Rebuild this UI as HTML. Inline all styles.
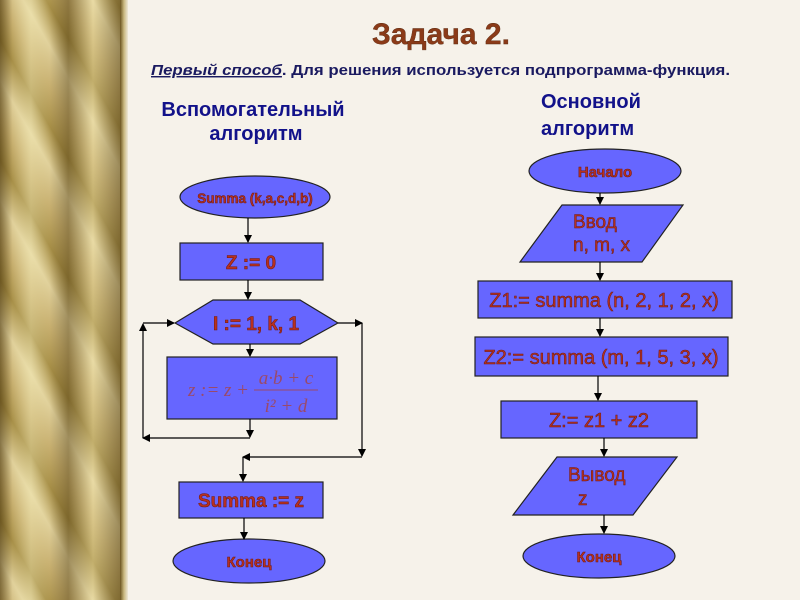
<!DOCTYPE html>
<html><head><meta charset="utf-8"><style>
html,body{margin:0;padding:0;width:800px;height:600px;overflow:hidden;background:#f6f2ea;font-family:"Liberation Sans","DejaVu Sans",sans-serif}
#l{position:absolute;left:0;top:0;width:124px;height:600px;
background:linear-gradient(90deg,rgba(60,40,0,.55) 0,rgba(0,0,0,0) 10%,rgba(255,250,200,.35) 25%,rgba(0,0,0,0) 40%,rgba(60,40,0,.4) 55%,rgba(255,245,190,.3) 75%,rgba(60,40,0,.5) 100%),
repeating-linear-gradient(60deg,#c8b070 0,#e0d09a 20px,#a89048 40px,#c8b070 60px);}
#lb{position:absolute;left:120px;top:0;width:8px;height:600px;background:linear-gradient(90deg,#6a5420,#c9b880,#eee8d8)}
svg{position:absolute;left:0;top:0}
</style></head><body>
<div id="l"></div><div id="lb"></div>
<svg width="800" height="600" viewBox="0 0 800 600">
<defs><marker id="a" markerWidth="8" markerHeight="8" refX="7" refY="4" orient="auto" markerUnits="userSpaceOnUse"><path d="M0,0 L8,4 L0,8 z" fill="#000"/></marker></defs>
<g font-family="Liberation Sans, sans-serif" font-weight="bold">
<text x="372" y="44" font-size="30" fill="#8b3a18" stroke="#5a2a10" stroke-width="0.4">Задача 2.</text>
<text x="151" y="75" font-size="14.5" fill="#1a1a60" textLength="579" lengthAdjust="spacingAndGlyphs"><tspan text-decoration="underline" font-style="italic">Первый способ</tspan>. Для решения используется подпрограмма-функция.</text>
<text x="253" y="116" font-size="20" fill="#12128a" text-anchor="middle">Вспомогательный</text>
<text x="256" y="140" font-size="20" fill="#12128a" text-anchor="middle">алгоритм</text>
<text x="541" y="108" font-size="20" fill="#12128a">Основной</text>
<text x="541" y="135" font-size="20" fill="#12128a">алгоритм</text>
</g>
<g stroke="#222" stroke-width="1.2" fill="#6666ff">
<ellipse cx="255" cy="197" rx="75" ry="21"/>
<rect x="180" y="243" width="143" height="37"/>
<polygon points="175,323 213,300 300,300 338,323 300,344 213,344"/>
<rect x="167" y="357" width="170" height="62"/>
<rect x="179" y="482" width="144" height="36"/>
<ellipse cx="249" cy="561" rx="76" ry="22"/>
<ellipse cx="605" cy="171" rx="76" ry="22"/>
<polygon points="562,205 683,205 642,262 520,262"/>
<rect x="478" y="281" width="254" height="37"/>
<rect x="475" y="337" width="253" height="39"/>
<rect x="501" y="401" width="196" height="37"/>
<polygon points="557,457 677,457 633,515 513,515"/>
<ellipse cx="599" cy="556" rx="76" ry="22"/>
</g>
<g stroke="#000" stroke-width="1.2" fill="none">
<line x1="248" y1="218" x2="248" y2="242" marker-end="url(#a)"/>
<line x1="248" y1="280" x2="248" y2="299" marker-end="url(#a)"/>
<line x1="250" y1="344" x2="250" y2="356" marker-end="url(#a)"/>
<line x1="250" y1="419" x2="250" y2="437" marker-end="url(#a)"/>
<line x1="250" y1="438" x2="143" y2="438" marker-end="url(#a)"/>
<line x1="143" y1="438" x2="143" y2="324" marker-end="url(#a)"/>
<line x1="143" y1="323" x2="174" y2="323" marker-end="url(#a)"/>
<line x1="338" y1="323" x2="362" y2="323" marker-end="url(#a)"/>
<line x1="362" y1="323" x2="362" y2="456" marker-end="url(#a)"/>
<line x1="362" y1="457" x2="243" y2="457" marker-end="url(#a)"/>
<line x1="243" y1="457" x2="243" y2="481" marker-end="url(#a)"/>
<line x1="244" y1="518" x2="244" y2="539" marker-end="url(#a)"/>
<line x1="600" y1="193" x2="600" y2="204" marker-end="url(#a)"/>
<line x1="600" y1="262" x2="600" y2="280" marker-end="url(#a)"/>
<line x1="600" y1="318" x2="600" y2="336" marker-end="url(#a)"/>
<line x1="598" y1="376" x2="598" y2="400" marker-end="url(#a)"/>
<line x1="604" y1="438" x2="604" y2="456" marker-end="url(#a)"/>
<line x1="604" y1="515" x2="604" y2="533" marker-end="url(#a)"/>
</g>
<g font-family="Liberation Sans, sans-serif" fill="#b83020" stroke="#6a1a10" stroke-width="0.5">
<g font-weight="bold" text-anchor="middle">
<text x="255" y="203" font-size="13.5">Summa (k,a,c,d,b)</text>
<text x="251" y="269" font-size="19">Z := 0</text>
<text x="256" y="330" font-size="19">I := 1, k, 1</text>
<text x="251" y="507" font-size="19">Summa := z</text>
<text x="249" y="567" font-size="15">Конец</text>
<text x="605" y="177" font-size="15">Начало</text>
<text x="599" y="562" font-size="15">Конец</text>
</g>
<g font-size="20" text-anchor="middle">
<text x="604" y="307">Z1:= summa (n, 2, 1, 2, x)</text>
<text x="601" y="364">Z2:= summa (m, 1, 5, 3, x)</text>
<text x="599" y="427">Z:= z1 + z2</text>
</g>
<g font-size="19">
<text x="573" y="228">Ввод</text>
<text x="573" y="251">n, m, x</text>
<text x="568" y="481">Вывод</text>
<text x="578" y="505">z</text>
</g>
<g font-family="Liberation Serif, serif" font-style="italic" font-size="19" stroke="none" fill="#9a4a6a">
<text x="188" y="396">z := z +</text>
<line x1="254" y1="390" x2="318" y2="390" stroke="#9a4a6a" stroke-width="1"/>
<text x="286" y="384" text-anchor="middle">a·b + c</text>
<text x="286" y="412" text-anchor="middle">i² + d</text>
</g>
</g>
</svg>
</body></html>
